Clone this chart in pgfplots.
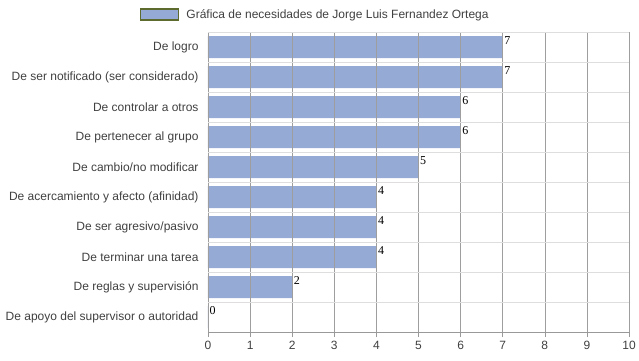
\documentclass[border=0pt]{standalone}
\usepackage{pgfplots}
\pgfplotsset{compat=1.18}
\usepackage{fontspec}
\setmainfont{Liberation Sans}
\newfontfamily\serifnum{Liberation Serif}
\definecolor{barc}{HTML}{96AAD6}
\definecolor{legb}{HTML}{5E6B2E}
\begin{document}
\begin{tikzpicture}
\useasboundingbox (-208pt,-28pt) rectangle (431pt,332pt);
\begin{axis}[
  at={(0pt,0pt)}, anchor=south west,
  scale only axis, width=421pt, height=300pt,
  xbar, bar width=22pt,
  xmin=0, xmax=10, ymin=-0.5, ymax=9.5, y dir=reverse,
  axis on top,
  xtick={0,1,...,10},
  ytick={0,...,9},
  yticklabels={De logro, De ser notificado (ser considerado), De controlar a otros, De pertenecer al grupo, De cambio/no modificar, De acercamiento y afecto (afinidad), De ser agresivo/pasivo, De terminar una tarea, De reglas y supervisión, De apoyo del supervisor o autoridad},
  minor ytick={-0.5,0.5,...,9.5},
  ymajorgrids=false, yminorgrids=true, xmajorgrids=true,
  minor grid style={color=black!13, line width=0.6pt},
  major grid style={color=black!38, line width=0.6pt},
  axis x line*=bottom, axis y line*=left,
  x axis line style={color=black!40, line width=0.6pt, -},
  y axis line style={draw=none},
  major x tick style={color=black!40, line width=0.6pt},
  xtick align=outside, major tick length=5pt,
  y tick style={draw=none}, minor y tick style={draw=none},
  tick label style={font=\fontsize{12}{14}\selectfont, color=black!75},
  yticklabel style={xshift=-1pt},
  xticklabel style={yshift=-1pt},
  /pgf/number format/assume math mode=true,
  nodes near coords,
  every node near coord/.append style={font=\serifnum\fontsize{12}{14}\selectfont, anchor=north west, yshift=11.5pt, xshift=0.5pt, inner sep=1pt, color=black},
  legend style={at={(0.2548,1.057)}, anchor=center, draw=none, fill=none, font=\fontsize{12}{14}\selectfont, text=black!75, legend columns=1},
  legend image code/.code={\draw[fill=barc, draw=legb, line width=1.5pt] (8pt,-5pt) rectangle (46pt,6pt);},
]
\addplot[fill=barc, draw=none] coordinates {(7,0) (7,1) (6,2) (6,3) (5,4) (4,5) (4,6) (4,7) (2,8) (0,9)};
\addlegendentry{\hspace{5pt}Gráfica de necesidades de Jorge Luis Fernandez Ortega}
\end{axis}
\end{tikzpicture}
\end{document}
